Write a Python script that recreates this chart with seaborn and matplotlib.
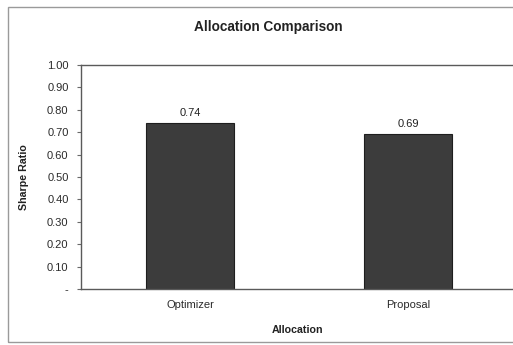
import matplotlib
matplotlib.use("Agg")
import matplotlib.pyplot as plt
import seaborn as sns
import pandas as pd
from matplotlib.patches import Rectangle

# Chart data
categories = ["Optimizer", "Proposal"]
sharpe = [0.74, 0.69]
ytick_values = [0.0, 0.1, 0.2, 0.3, 0.4, 0.5, 0.6, 0.7, 0.8, 0.9, 1.0]
ytick_labels = ["-", "0.10", "0.20", "0.30", "0.40", "0.50",
                "0.60", "0.70", "0.80", "0.90", "1.00"]

sns.set_theme(style="white")
plt.rcParams["font.family"] = ["Liberation Sans", "DejaVu Sans"]

df = pd.DataFrame({"Allocation": categories, "Sharpe Ratio": sharpe})

W, H = 513, 345
fig = plt.figure(figsize=(W / 100, H / 100), dpi=100)
fig.patch.set_facecolor("white")

# Outer chart frame
fig.add_artist(Rectangle((8 / W, 1 - 342 / H), (W + 10) / W, (342 - 7) / H,
                         transform=fig.transFigure, fill=False,
                         edgecolor="#9a9a9a", linewidth=1.0))

# Plot area
ax = fig.add_axes([81 / W, 1 - 289 / H, 436 / W, 224 / H])
sns.barplot(data=df, x="Allocation", y="Sharpe Ratio", ax=ax,
            color="#3c3c3c", width=0.4, saturation=1,
            edgecolor="#1e1e1e", linewidth=0.8)

ax.set_xlim(-0.5, 1.5)
ax.set_ylim(0, 1.0)
ax.set_yticks(ytick_values)
ax.set_yticklabels(ytick_labels)

for c in ax.containers:
    ax.bar_label(c, fmt="%.2f", padding=4, fontsize=8, color="#222222")

for side in ["left", "top", "bottom", "right"]:
    ax.spines[side].set_visible(True)
    ax.spines[side].set_color("#5a5a5a")
    ax.spines[side].set_linewidth(1.0)

ax.tick_params(axis="y", which="major", direction="out", length=3,
               width=0.8, color="#6a6a6a", labelsize=8, pad=6,
               labelcolor="#2a2a2a", left=True)
ax.tick_params(axis="x", length=0, labelsize=8, pad=8,
               labelcolor="#2a2a2a")

ax.set_xlabel("Allocation", fontsize=7.7, fontweight="bold",
              color="#222222")
ax.xaxis.set_label_coords((297 - 81) / 436, -(325 - 289) / 224)
ax.set_ylabel("Sharpe Ratio", fontsize=7.7, fontweight="bold",
              color="#222222")
ax.yaxis.set_label_coords(-(81 - 29) / 436, 0.5)

fig.text(268 / W, 1 - 27 / H, "Allocation Comparison", ha="center",
         va="center", fontsize=9.8, fontweight="bold", color="#222222")

fig.savefig("out.png", dpi=100, facecolor="white")
